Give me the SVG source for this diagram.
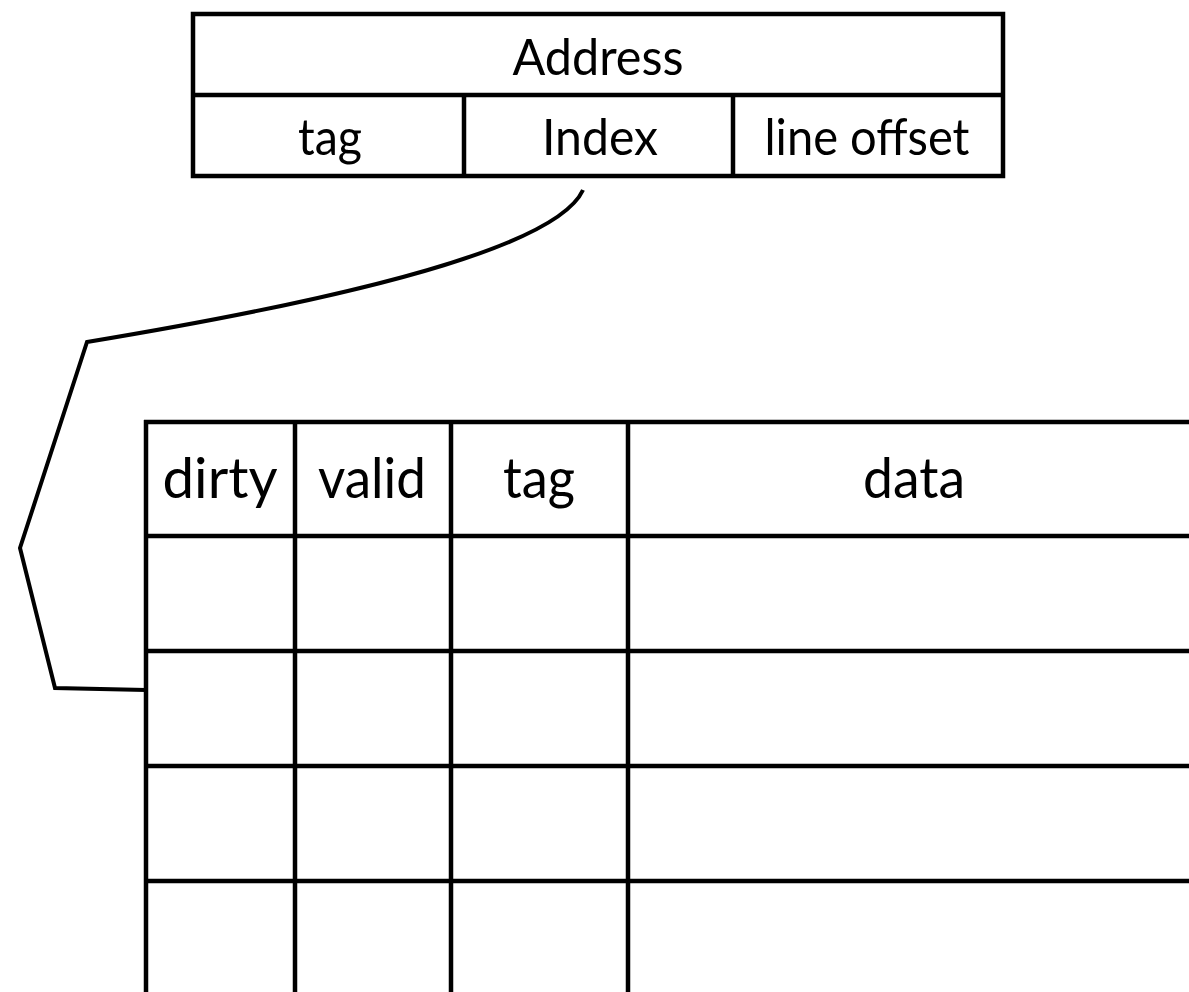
<svg xmlns="http://www.w3.org/2000/svg" width="1189" height="992" viewBox="0 0 1189 992">
  <style>
    .box { fill: none; stroke: #000; stroke-width: 4.5; }
    .grid { stroke: #000; stroke-width: 4.5; }
    .lbl { font-family: "Lato", "Open Sans", "Liberation Sans", sans-serif; fill: #000; text-anchor: middle; }
    .top { font-size: 50px; }
    .head { font-size: 56px; }
    .link { fill: none; stroke: #000; stroke-width: 4; stroke-linejoin: miter; }
  </style>
  <rect width="1189" height="992" fill="#fff"/>

  <!-- address breakdown -->
  <g id="address">
    <rect class="box" x="193" y="14" width="810" height="162"/>
    <line class="grid" x1="193" y1="95" x2="1003" y2="95"/>
    <line class="grid" x1="464" y1="95" x2="464" y2="176"/>
    <line class="grid" x1="733" y1="95" x2="733" y2="176"/>
    <text class="lbl top" x="598" y="75" textLength="171" lengthAdjust="spacingAndGlyphs">Address</text>
    <text class="lbl top" x="330" y="155" textLength="64" lengthAdjust="spacingAndGlyphs">tag</text>
    <text class="lbl top" x="600" y="155" textLength="116" lengthAdjust="spacingAndGlyphs">Index</text>
    <text class="lbl top" x="867" y="155" textLength="205" lengthAdjust="spacingAndGlyphs">line offset</text>
  </g>

  <!-- cache lines -->
  <g id="cache-table">
    <line class="grid" x1="144" y1="422" x2="1195" y2="422"/>
    <line class="grid" x1="146" y1="420" x2="146" y2="1000"/>
    <line class="grid" x1="295" y1="420" x2="295" y2="1000"/>
    <line class="grid" x1="451" y1="420" x2="451" y2="1000"/>
    <line class="grid" x1="628" y1="420" x2="628" y2="1000"/>
    <line class="grid" x1="144" y1="536" x2="1195" y2="536"/>
    <line class="grid" x1="144" y1="651" x2="1195" y2="651"/>
    <line class="grid" x1="144" y1="766" x2="1195" y2="766"/>
    <line class="grid" x1="144" y1="881" x2="1195" y2="881"/>
    <text class="lbl head" x="220" y="498" textLength="115" lengthAdjust="spacingAndGlyphs">dirty</text>
    <text class="lbl head" x="372" y="498" textLength="108" lengthAdjust="spacingAndGlyphs">valid</text>
    <text class="lbl head" x="539" y="498" textLength="72" lengthAdjust="spacingAndGlyphs">tag</text>
    <text class="lbl head" x="914" y="498" textLength="102" lengthAdjust="spacingAndGlyphs">data</text>
  </g>

  <!-- index selects a line -->
  <g id="connectors">
    <path class="link" d="M583,190 C560,240 400,290 87,342 L20,548 L55,688 L146,690"/>
  </g>
</svg>
